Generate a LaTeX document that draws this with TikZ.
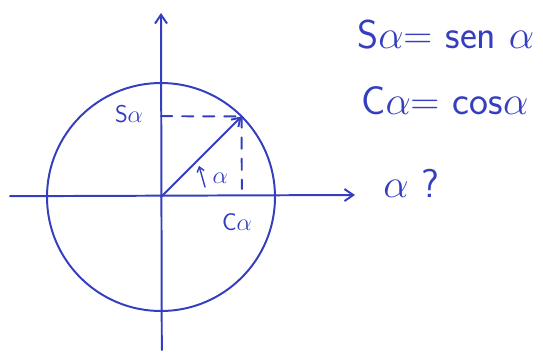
\documentclass[tikz,border=0pt]{standalone}
\usepackage{amsmath}
\usepackage{xcolor}
\usepackage{tikz}
\usetikzlibrary{arrows.meta,positioning}
\definecolor{penblue}{RGB}{52,62,190}
\tikzset{
  pen/.style={draw=penblue, line width=1.4pt, line cap=round, line join=round},
  axis/.style={pen, -{Straight Barb[length=2.2mm,width=3mm]}},
  helper/.style={pen, dash pattern=on 8pt off 7pt},
  handlabel/.style={text=penblue, font=\LARGE\sffamily, inner sep=1pt},
  eqlabel/.style={text=penblue, font=\Huge\sffamily, scale=1.15, anchor=west, inner sep=0pt}
}
\begin{document}
\begin{tikzpicture}[x=1cm,y=1cm]
  \useasboundingbox (-4.025,-4.1) rectangle (9.55,4.925);
  \coordinate (O) at (0,0);
  \coordinate (xstart) at (-3.775,0.02);
  \coordinate (xend) at (4.85,0.05);
  \coordinate (ystart) at (0.02,-3.825);
  \coordinate (yend) at (0,4.6);
  \coordinate (P) at (45:2.85);
  \coordinate (sinfoot) at (0,2.02);
  \coordinate (cosfoot) at (2.02,0.2);
  \coordinate (angfrom) at (1.1,0.25);
  \coordinate (angto) at (0.95,0.78);

  \draw[pen] (O) circle[radius=2.85];
  \draw[axis] (xstart) -- (xend);
  \draw[axis] (ystart) -- (yend);
  \draw[pen, -{Straight Barb[length=2mm,width=2.6mm]}] (O) -- (P);
  \draw[helper] (sinfoot) -- (P);
  \draw[helper] (P) -- (cosfoot);
  \draw[pen, line width=1pt, -{Straight Barb[length=1.2mm,width=1.8mm]}] (angfrom) -- (angto);

  \node[handlabel] (sinlbl) at (-0.8,2.08) {S$\alpha$};
  \node[handlabel] (coslbl) at (1.9,-0.62) {C$\alpha$};
  \node[handlabel] (anglbl) at (1.48,0.48) {$\alpha$};

  \node[eqlabel] (sineq) at (4.9,4.05) {S$\alpha$= sen $\alpha$};
  \node[eqlabel] (coseq) at (5.0,2.4) {C$\alpha$= cos$\alpha$};
  \node[eqlabel] (question) at (5.55,0.35) {$\alpha$ ?};
\end{tikzpicture}
\end{document}
